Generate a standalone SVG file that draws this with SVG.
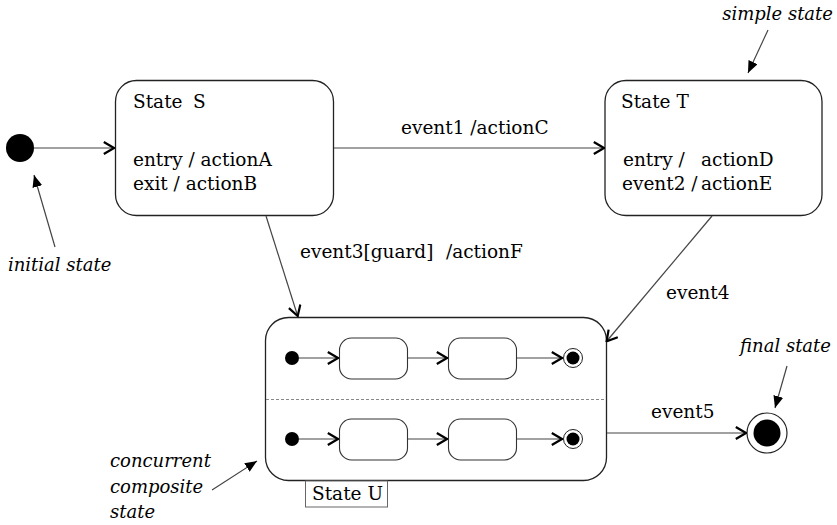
<svg xmlns="http://www.w3.org/2000/svg" width="837" height="525" viewBox="0 0 837 525">
  <style>
    .box { fill: #fff; stroke: #222; stroke-width: 1.3; }
    .sub { fill: #fff; stroke: #333; stroke-width: 1.1; }
    .edge { fill: none; stroke: #444; stroke-width: 1.2; }
    .txt { font-family: "DejaVu Serif", "Liberation Serif", serif; font-size: 18.5px; fill: #000; }
    .note { font-family: "DejaVu Serif", "Liberation Serif", serif; font-size: 18px; font-style: italic; fill: #000; }
  </style>
  <defs>
    <marker id="open" viewBox="0 0 12 14" refX="12" refY="7" markerWidth="12" markerHeight="14" orient="auto" markerUnits="userSpaceOnUse">
      <path d="M0.8,1 L11,7 L0.8,13" fill="none" stroke="#000" stroke-width="2.2"/>
    </marker>
    <marker id="solid" viewBox="0 0 12 10" refX="12" refY="5" markerWidth="12" markerHeight="10" orient="auto" markerUnits="userSpaceOnUse">
      <path d="M0,0 L12,5 L0,10 z" fill="#000"/>
    </marker>
  </defs>

  <!-- initial pseudo-state -->
  <g id="initial">
    <circle cx="20" cy="148" r="14" fill="#000"/>
  </g>

  <!-- State S -->
  <g id="stateS">
    <rect class="box" x="115.5" y="80.5" width="218" height="135" rx="21"/>
    <text class="txt" x="133" y="107.5">State<tspan x="193">S</tspan></text>
    <text class="txt" x="133" y="166">entry / actionA</text>
    <text class="txt" x="133" y="189.5">exit / actionB</text>
  </g>

  <!-- State T -->
  <g id="stateT">
    <rect class="box" x="605" y="80.5" width="217" height="135" rx="21"/>
    <text class="txt" x="621" y="107.5">State T</text>
    <text class="txt" x="623" y="166">entry /<tspan x="701">actionD</tspan></text>
    <text class="txt" x="622" y="189.5">event2 /<tspan x="701">actionE</tspan></text>
  </g>

  <!-- State U: concurrent composite state -->
  <g id="stateU">
    <rect class="box" x="265.5" y="317.5" width="341" height="163" rx="23"/>
    <line x1="266" y1="399.5" x2="606" y2="399.5" stroke="#888" stroke-width="1.1" stroke-dasharray="3,2"/>
    <rect x="305.5" y="481" width="82" height="26" fill="#fff" stroke="#666" stroke-width="1"/>
    <text class="txt" x="312" y="500">State U</text>
  </g>

  <!-- upper region -->
  <g id="regionTop">
    <circle cx="292" cy="358" r="7" fill="#000"/>
    <rect class="sub" x="339.5" y="338" width="68" height="41" rx="12"/>
    <rect class="sub" x="448.5" y="338" width="68" height="41" rx="12"/>
    <circle cx="573" cy="358" r="9.5" fill="#fff" stroke="#222" stroke-width="1"/>
    <circle cx="573" cy="358" r="6.5" fill="#000"/>
  </g>

  <!-- lower region -->
  <g id="regionBottom">
    <circle cx="292" cy="439" r="7" fill="#000"/>
    <rect class="sub" x="339.5" y="419" width="68" height="41" rx="12"/>
    <rect class="sub" x="448.5" y="419" width="68" height="41" rx="12"/>
    <circle cx="573" cy="439" r="9.5" fill="#fff" stroke="#222" stroke-width="1"/>
    <circle cx="573" cy="439" r="6.5" fill="#000"/>
  </g>

  <!-- final state -->
  <g id="final">
    <circle cx="767" cy="433" r="20" fill="#fff" stroke="#222" stroke-width="1.2"/>
    <circle cx="767" cy="433" r="13.5" fill="#000"/>
  </g>

  <!-- transitions -->
  <g id="connectors">
    <line class="edge" x1="34" y1="148" x2="115" y2="148" marker-end="url(#open)"/>
    <line class="edge" x1="334" y1="148" x2="605" y2="148" marker-end="url(#open)"/>
    <line class="edge" x1="266" y1="216" x2="298" y2="317" marker-end="url(#open)"/>
    <line class="edge" x1="712" y1="216" x2="606" y2="342" marker-end="url(#open)"/>
    <line class="edge" x1="607" y1="433" x2="747" y2="433" marker-end="url(#open)"/>

    <line class="edge" x1="299" y1="358" x2="339" y2="358" marker-end="url(#open)"/>
    <line class="edge" x1="408" y1="358" x2="448" y2="358" marker-end="url(#open)"/>
    <line class="edge" x1="517" y1="358" x2="563" y2="358" marker-end="url(#open)"/>
    <line class="edge" x1="299" y1="439" x2="339" y2="439" marker-end="url(#open)"/>
    <line class="edge" x1="408" y1="439" x2="448" y2="439" marker-end="url(#open)"/>
    <line class="edge" x1="517" y1="439" x2="563" y2="439" marker-end="url(#open)"/>

    <!-- annotation pointers -->
    <line class="edge" x1="55" y1="247" x2="34" y2="175" stroke="#000" marker-end="url(#solid)"/>
    <line class="edge" x1="768" y1="30" x2="748" y2="73" stroke="#000" marker-end="url(#solid)"/>
    <line class="edge" x1="787" y1="366" x2="775" y2="408" stroke="#000" marker-end="url(#solid)"/>
    <line class="edge" x1="212" y1="490" x2="257" y2="461" stroke="#000" marker-end="url(#solid)"/>
  </g>

  <!-- transition labels -->
  <g id="labels">
    <text class="txt" x="401" y="134">event1 /actionC</text>
    <text class="txt" x="300" y="257.5">event3[guard]<tspan x="446">/actionF</tspan></text>
    <text class="txt" x="666" y="299">event4</text>
    <text class="txt" x="651" y="418">event5</text>
  </g>

  <!-- annotations -->
  <g id="notes">
    <text class="note" x="833" y="20" text-anchor="end">simple state</text>
    <text class="note" x="8" y="271">initial state</text>
    <text class="note" x="831" y="352" text-anchor="end">final state</text>
    <text class="note" x="110" y="467">concurrent</text>
    <text class="note" x="110" y="493">composite</text>
    <text class="note" x="110" y="518">state</text>
  </g>
</svg>
